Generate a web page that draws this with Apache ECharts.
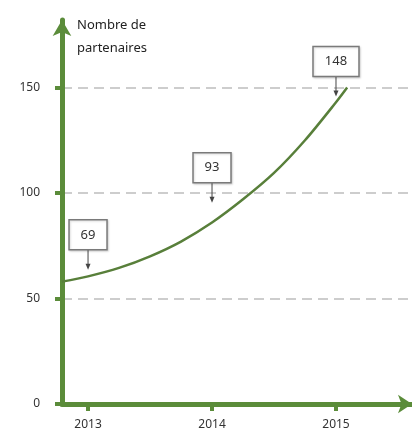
<!DOCTYPE html>
<html>
<head>
<meta charset="utf-8">
<script src="https://cdn.jsdelivr.net/npm/echarts@6/dist/echarts.min.js"></script>
<style>
html,body{margin:0;padding:0;background:#fff;}
#chart{width:412px;height:433px;}
</style>
</head>
<body>
<div id="chart"></div>
<script>
// Curve
const curveYears = [2012.79, 2013, 2013.25, 2013.5, 2013.75, 2014, 2014.25, 2014.5, 2014.75, 2015, 2015.09];
const curvePartners = [58, 60.5, 64.5, 70, 77, 86, 97, 109.5, 125, 143, 150];
// Callouts
const labelYears = [2013, 2014, 2015];
const labelValues = [69, 93, 148];
const arrowTips = [63.6, 95.4, 145.7];
// Axis ticks
const xTickYears = [2013, 2014, 2015];
const yTickValues = [0, 50, 100, 150];
const yTitle = 'Nombre de\npartenaires';

const AXIS_GREEN = '#5b8c3a';
const CURVE_GREEN = '#587f3a';
const FONT = 'Noto Sans';

const chart = echarts.init(document.getElementById('chart'));
chart.setOption({
  animation: false,
  backgroundColor: '#fff',
  title: {
    text: yTitle,
    left: 72, top: 9,
    textStyle: {fontFamily: FONT, fontSize: 13, fontWeight: 'normal', color: '#222', lineHeight: 23}
  },
  grid: {left: 62, right: 0, top: 20, bottom: 29, containLabel: false},
  xAxis: {
    type: 'value',
    min: 2012.79, max: 2015.613,
    splitLine: {show: false},
    axisLine: {show: true, onZero: false, symbol: ['none', 'arrow'], symbolSize: [14, 14],
      lineStyle: {color: AXIS_GREEN, width: 5}},
    axisTick: {show: true, customValues: xTickYears, length: 7, inside: false,
      lineStyle: {color: AXIS_GREEN, width: 4}},
    axisLabel: {customValues: xTickYears, formatter: v => String(v), margin: 15,
      fontFamily: FONT, fontSize: 12, color: '#333'}
  },
  yAxis: {
    type: 'value',
    min: 0, max: 182, interval: 50,
    axisLine: {show: true, onZero: false, symbol: ['none', 'arrow'], symbolSize: [14, 16],
      lineStyle: {color: AXIS_GREEN, width: 5}},
    axisTick: {show: true, customValues: yTickValues, length: 7, inside: false,
      lineStyle: {color: AXIS_GREEN, width: 4}},
    axisLabel: {customValues: yTickValues, margin: 22, fontFamily: FONT, fontSize: 12, color: '#333'},
    splitLine: {show: true, showMinLine: false, showMaxLine: true,
      lineStyle: {color: '#bdbdbd', width: 1.5, type: [10, 6]}}
  },
  series: [
    {
      type: 'line',
      data: curveYears.map((y, i) => [y, curvePartners[i]]),
      smooth: 0.3,
      symbol: 'none',
      clip: false,
      lineStyle: {color: CURVE_GREEN, width: 2.5},
      z: 3
    },
    {
      type: 'custom',
      clip: false,
      z: 5,
      data: labelYears.map((y, i) => [y, arrowTips[i], labelValues[i]]),
      renderItem: function (params, api) {
        const p = api.coord([api.value(0), api.value(1)]);
        const txt = String(api.value(2));
        const w = txt.length >= 3 ? 46 : 38;
        const h = 30;
        const gap = 20;
        const x = p[0], y = p[1];
        return {
          type: 'group',
          children: [
            {type: 'line', shape: {x1: x, y1: y - gap, x2: x, y2: y - 4},
              style: {stroke: '#444', lineWidth: 1}},
            {type: 'polygon', shape: {points: [[x - 2.5, y - 6], [x + 2.5, y - 6], [x, y]]},
              style: {fill: '#444'}},
            {type: 'rect', shape: {x: x - w / 2, y: y - gap - h, width: w, height: h},
              style: {fill: '#fff', stroke: '#7a7a7a', lineWidth: 1.5,
                shadowColor: 'rgba(0,0,0,0.15)', shadowBlur: 2, shadowOffsetX: 1, shadowOffsetY: 1}},
            {type: 'text', x: x, y: y - gap - h / 2,
              style: {text: txt, fill: '#333', font: '13px "' + FONT + '"', align: 'center', verticalAlign: 'middle'}}
          ]
        };
      }
    }
  ]
});
</script>
</body>
</html>
